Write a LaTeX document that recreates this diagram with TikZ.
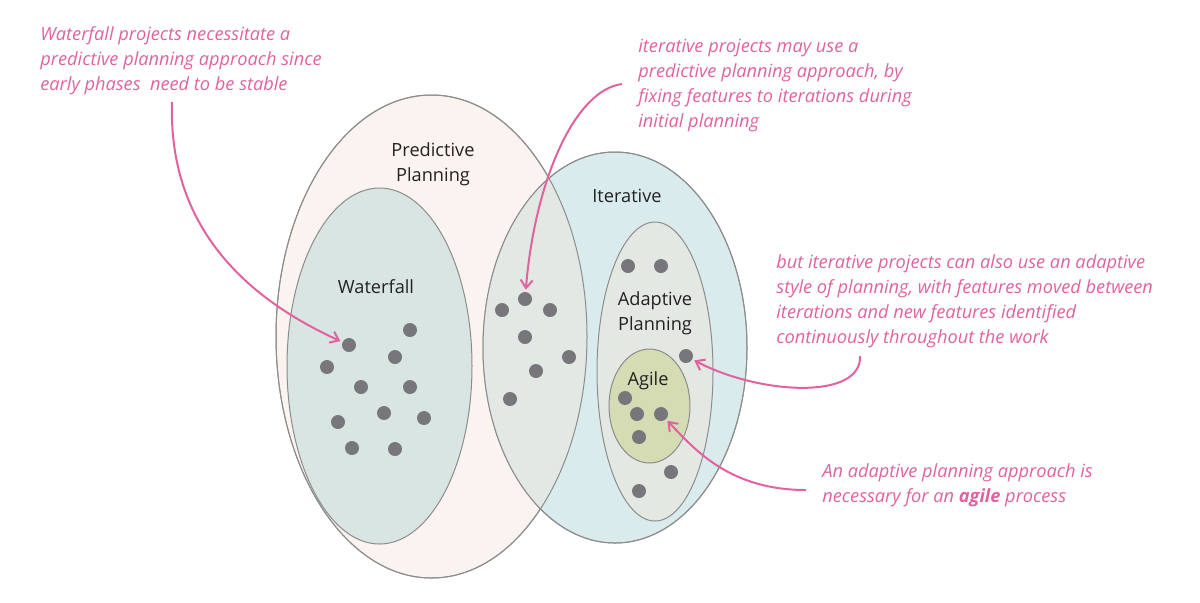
\documentclass[tikz,border=0pt]{standalone}
\usepackage{fontspec}
\setmainfont{Open Sans}
\usetikzlibrary{arrows.meta}

\definecolor{predfill}{HTML}{FAF3EF}
\definecolor{wasserfill}{HTML}{D9E5E3}
\definecolor{iterfill}{HTML}{DAEBEE}
\definecolor{linsefill}{HTML}{E2E8E3}
\definecolor{adaptfill}{HTML}{E3E8E3}
\definecolor{agilfill}{HTML}{D5DBB3}
\definecolor{rand}{HTML}{8C8C8C}
\definecolor{punktgrau}{HTML}{77777B}
\definecolor{rosa}{HTML}{E0629F}
\definecolor{schwarz}{HTML}{222222}

\begin{document}
\begin{tikzpicture}
		[
		x=0.5pt, y=-0.5pt, font=\fontsize{9.1}{12.5}\selectfont, >={Straight Barb[length=4pt,width=6pt]},
		%Voreinstellungen (Anker = Grundlinie der letzten Zeile)
		menge/.style={draw=rand, line width=0.5pt},
		punkt/.style={circle, fill=punktgrau, minimum size=7pt, inner sep=0pt},
		notiz/.style={text=rosa, align=left, anchor=base west, inner sep=0pt, font=\fontsize{9.1}{12.5}\selectfont\itshape},
		titel/.style={text=schwarz, align=center, anchor=base, inner sep=0pt},
		pfeil/.style={->, rosa, line width=1pt, shorten >=1pt}
		]
		
		%Rahmen
		\useasboundingbox (0,0) rectangle (1200,602);
		
		%Predictive Planning
		\filldraw[menge, fill=predfill] (431.5,336.5) ellipse [x radius=155.5, y radius=241.5];
		
		%Iterative
		\filldraw[menge, fill=iterfill] (615,347.5) ellipse [x radius=132, y radius=195.5];
		
		%Schnittmenge
		\begin{scope}
			\clip (431.5,336.5) ellipse [x radius=155.5, y radius=241.5];
			\fill[linsefill] (615,347.5) ellipse [x radius=132, y radius=195.5];
		\end{scope}
		\draw[menge] (431.5,336.5) ellipse [x radius=155.5, y radius=241.5];
		\draw[menge] (615,347.5) ellipse [x radius=132, y radius=195.5];
		
		%Waterfall
		\filldraw[menge, fill=wasserfill] (379.5,366) ellipse [x radius=92.5, y radius=178];
		
		%Adaptive Planning und Agile
		\filldraw[menge, fill=adaptfill] (655,371.5) ellipse [x radius=58, y radius=149.5];
		\filldraw[menge, fill=agilfill] (649.5,406) ellipse [x radius=40.5, y radius=57];
		
		%Beschriftungen
		\node[titel] (pp) at (433,181) {Predictive\\Planning};
		\node[titel] (it) at (627,202) {Iterative};
		\node[titel] (wf) at (376,293) {Waterfall};
		\node[titel] (ap) at (655,330) {Adaptive\\Planning};
		\node[titel] (ag) at (648,385) {Agile};
		
		%Punkte
		\foreach \px/\py [count=\i] in {349/345, 410/330, 395/357, 327/367, 361/387, 410/387, 384/413, 424/418, 338/422, 352/448, 395/449}
		\node[punkt] (w\i) at (\px,\py) {};
		\foreach \px/\py [count=\i] in {525/299, 502/310, 550/310, 525/337, 569/357, 536/371, 510/399}
		\node[punkt] (l\i) at (\px,\py) {};
		\foreach \px/\py [count=\i] in {628/266, 661/266, 686/356, 625/398, 637/414, 661/414, 639/437, 671/472, 639/491}
		\node[punkt] (a\i) at (\px,\py) {};
		
		%Notizen
		\node[notiz] (n1) at (40,90) {Waterfall projects necessitate a\\predictive planning approach since\\early phases\ \ need to be stable};
		\node[notiz] (n2) at (638,127) {iterative projects may use a\\predictive planning approach, by\\fixing features to iterations during\\initial planning};
		\node[notiz] (n3) at (776,343) {but iterative projects can also use an adaptive\\style of planning, with features moved between\\iterations and new features identified\\continuously throughout the work};
		\node[notiz] (n4) at (822,502) {An adaptive planning approach is\\necessary for an \textbf{agile} process};
		
		%Pfeile
		\coordinate (s1) at (172,102);
		\coordinate (s2) at (622,84);
		\coordinate (s3) at (860,356);
		\coordinate (s4) at (806,490);
		\draw[pfeil] (s1) .. controls (168,230) and (250,300) .. (w1);
		\draw[pfeil] (s2) .. controls (575,90) and (535,180) .. (l1);
		\draw[pfeil] (s3) .. controls (862,400) and (760,395) .. (a3);
		\draw[pfeil] (s4) .. controls (730,490) and (695,450) .. (a6);
		
\end{tikzpicture}
\end{document}
